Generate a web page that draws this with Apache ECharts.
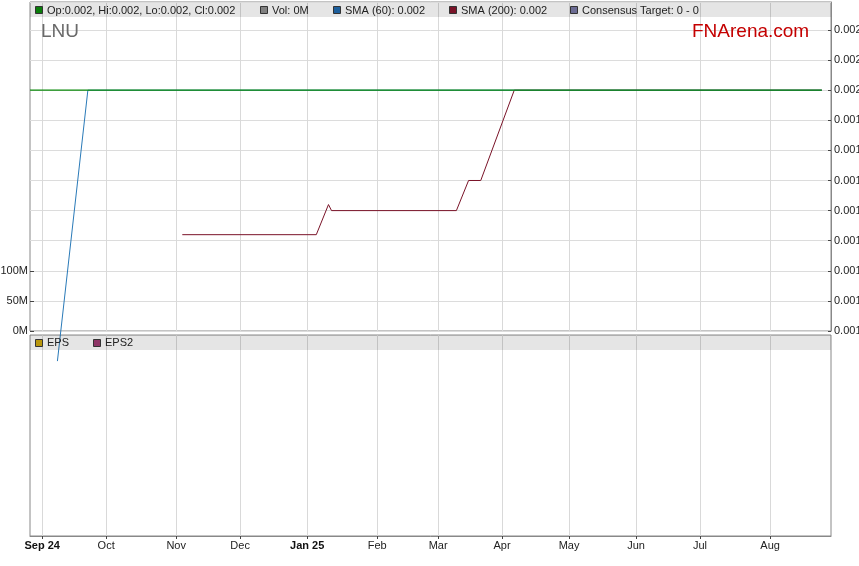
<!DOCTYPE html>
<html>
<head>
<meta charset="utf-8">
<script src="https://cdn.jsdelivr.net/npm/echarts@6/dist/echarts.min.js"></script>
<style>
  html, body { margin: 0; padding: 0; background: #fff; }
  #chart { width: 859px; height: 566px; }
</style>
</head>
<body>
<div id="chart"></div>
<script>
// data (prices in AUD, weekday axis)
var startDate = "2024-08-27";
var endDate = "2025-08-29";
var tickDates = ["2024-09-02", "2024-10-01", "2024-11-01", "2024-12-02", "2025-01-01", "2025-02-03",
  "2025-03-03", "2025-04-01", "2025-05-01", "2025-06-02", "2025-07-01", "2025-08-01"];
var tickLabels = ["Sep 24", "Oct", "Nov", "Dec", "Jan 25", "Feb", "Mar", "Apr", "May", "Jun", "Jul", "Aug"];
var boldLabels = ["Sep 24", "Jan 25"];

var closePrices = [["2024-08-27", 0.002], ["2025-08-26", 0.002]];
var sma60 = [["2024-09-09", 0.0011], ["2024-09-23", 0.002], ["2025-08-26", 0.002]];
var sma200 = [["2024-11-05", 0.00152], ["2025-01-06", 0.00152], ["2025-01-10", 0.00162], ["2025-01-13", 0.0016],
  ["2025-03-11", 0.0016], ["2025-03-17", 0.0017], ["2025-03-21", 0.0017], ["2025-04-07", 0.002], ["2025-08-26", 0.002]];
var volumes = [["2024-08-27", 0], ["2025-08-26", 0]];

var topLegend = ["Op:0.002, Hi:0.002, Lo:0.002, Cl:0.002", "Vol: 0M", "SMA (60): 0.002", "SMA (200): 0.002", "Consensus Target: 0 - 0"];
var topLegendColors = ["#0a7d0a", "#808080", "#1d5f9c", "#7a1328", "#6c6c94"];
var lowLegend = ["EPS", "EPS2"];
var lowLegendColors = ["#b8960c", "#8e3566"];

// weekday categories
var dates = [];
var d = new Date(startDate + "T00:00:00Z");
var end = new Date(endDate + "T00:00:00Z");
while (d <= end) {
  var wd = d.getUTCDay();
  if (wd != 0 && wd != 6) dates.push(d.toISOString().slice(0, 10));
  d.setUTCDate(d.getUTCDate() + 1);
}

var FONT = '"Liberation Sans", Arial, sans-serif';
var isTick = function (idx, val) {
  return tickDates.indexOf(val) >= 0;
};

// legend bars (positions are layout, not data)
var topX = [35, 260, 333, 449, 570];
var lowX = [35, 93];
var graphics = [
  { type: "rect", z: 100, shape: { x: 30, y: 3, width: 801, height: 14 }, style: { fill: "rgba(0,0,0,0.1)" }, silent: true },
  { type: "rect", z: 100, shape: { x: 30, y: 335, width: 801, height: 15 }, style: { fill: "rgba(0,0,0,0.1)" }, silent: true },
  { type: "text", z: 100, style: { text: "LNU", x: 41, y: 32, fill: "#6a6a6a", font: "19px " + FONT, verticalAlign: "middle" } },
  { type: "text", z: 100, style: { text: "FNArena.com", x: 692, y: 32, fill: "#c40000", font: "19px " + FONT, verticalAlign: "middle" } },
];
topLegend.map(function (t, i) {
  graphics.push({ type: "rect", z: 100, shape: { x: topX[i] + 0.5, y: 6.5, width: 7, height: 7 }, style: { fill: topLegendColors[i], stroke: "#333", lineWidth: 1 } });
  graphics.push({ type: "text", z: 100, style: { text: t, x: topX[i] + 12, y: 10.5, fill: "#222", font: "11px " + FONT, verticalAlign: "middle" } });
});
lowLegend.map(function (t, i) {
  graphics.push({ type: "rect", z: 100, shape: { x: lowX[i] + 0.5, y: 339.5, width: 7, height: 7 }, style: { fill: lowLegendColors[i], stroke: "#333", lineWidth: 1 } });
  graphics.push({ type: "text", z: 100, style: { text: t, x: lowX[i] + 12, y: 343, fill: "#222", font: "11px " + FONT, verticalAlign: "middle" } });
});

var option = {
  animation: false,
  backgroundColor: "#fff",
  textStyle: { fontFamily: FONT },
  grid: [
    { left: 30, right: 28, top: 2, height: 329, show: true, borderColor: "#888", borderWidth: 1, backgroundColor: "transparent", containLabel: false, outerBoundsMode: "none" },
    { left: 30, right: 28, top: 271, height: 60, containLabel: false, outerBoundsMode: "none" },
    { left: 30, right: 28, top: 335, height: 201, show: true, borderColor: "#888", borderWidth: 1, backgroundColor: "transparent", containLabel: false, outerBoundsMode: "none" },
  ],
  xAxis: [
    {
      type: "category", gridIndex: 0, data: dates, boundaryGap: false,
      axisLine: { show: false }, axisTick: { show: false }, axisLabel: { show: false },
      splitLine: { show: true, interval: isTick, lineStyle: { color: "#d9d9d9" } },
    },
    { type: "category", gridIndex: 1, data: dates, boundaryGap: false, show: false },
    {
      type: "category", gridIndex: 2, data: dates, boundaryGap: false,
      axisLine: { lineStyle: { color: "#888" } },
      axisTick: { interval: isTick, length: 3, lineStyle: { color: "#444" } },
      axisLabel: {
        interval: isTick, margin: 4, color: "#222", fontSize: 11, fontFamily: FONT,
        formatter: function (val) {
          var lab = tickLabels[tickDates.indexOf(val)];
          return boldLabels.indexOf(lab) >= 0 ? "{b|" + lab + "}" : lab;
        },
        rich: { b: { fontWeight: "bold", fontSize: 11, fontFamily: FONT, color: "#111" } },
      },
      splitLine: { show: true, interval: isTick, lineStyle: { color: "#d9d9d9" } },
    },
  ],
  yAxis: [
    {
      type: "value", gridIndex: 0, position: "right", min: 0.0012, max: 0.002293, interval: 0.0001,
      axisLine: { show: true, lineStyle: { color: "#888" } },
      axisTick: { show: true, inside: true, length: 3, lineStyle: { color: "#444" } },
      axisLabel: {
        margin: 3, color: "#222", fontSize: 11, fontFamily: FONT, showMaxLabel: false,
        formatter: function (v) { return v.toFixed(4); },
      },
      splitLine: { lineStyle: { color: "#dcdcdc" } },
    },
    {
      type: "value", gridIndex: 1, position: "left", min: 0, max: 100000000, interval: 50000000,
      axisLine: { show: false },
      axisTick: { show: true, inside: true, length: 4, lineStyle: { color: "#444" } },
      axisLabel: {
        margin: 2, color: "#222", fontSize: 11, fontFamily: FONT,
        formatter: function (v) { return v / 1000000 + "M"; },
      },
      splitLine: { show: false },
    },
    { type: "value", gridIndex: 2, min: 0, max: 1, show: false },
  ],
  series: [
    { name: "Vol", type: "bar", xAxisIndex: 1, yAxisIndex: 1, data: volumes, itemStyle: { color: "#808080" } },
    {
      name: "SMA (200)", type: "line", xAxisIndex: 0, yAxisIndex: 0, data: sma200, symbol: "none",
      lineStyle: { color: "#7a1328", width: 1 }, clip: false,
    },
    {
      name: "SMA (60)", type: "line", xAxisIndex: 0, yAxisIndex: 0, data: sma60, symbol: "none",
      lineStyle: { color: "#2a7ab8", width: 1 }, clip: false, z: 3,
    },
    {
      name: "Close", type: "line", xAxisIndex: 0, yAxisIndex: 0, data: closePrices, symbol: "none",
      lineStyle: { color: "#0a8a0a", width: 1.3 }, z: 4,
    },
  ],
  graphic: { elements: graphics },
};

var myChart = echarts.init(document.getElementById("chart"));
myChart.setOption(option);
</script>
</body>
</html>
